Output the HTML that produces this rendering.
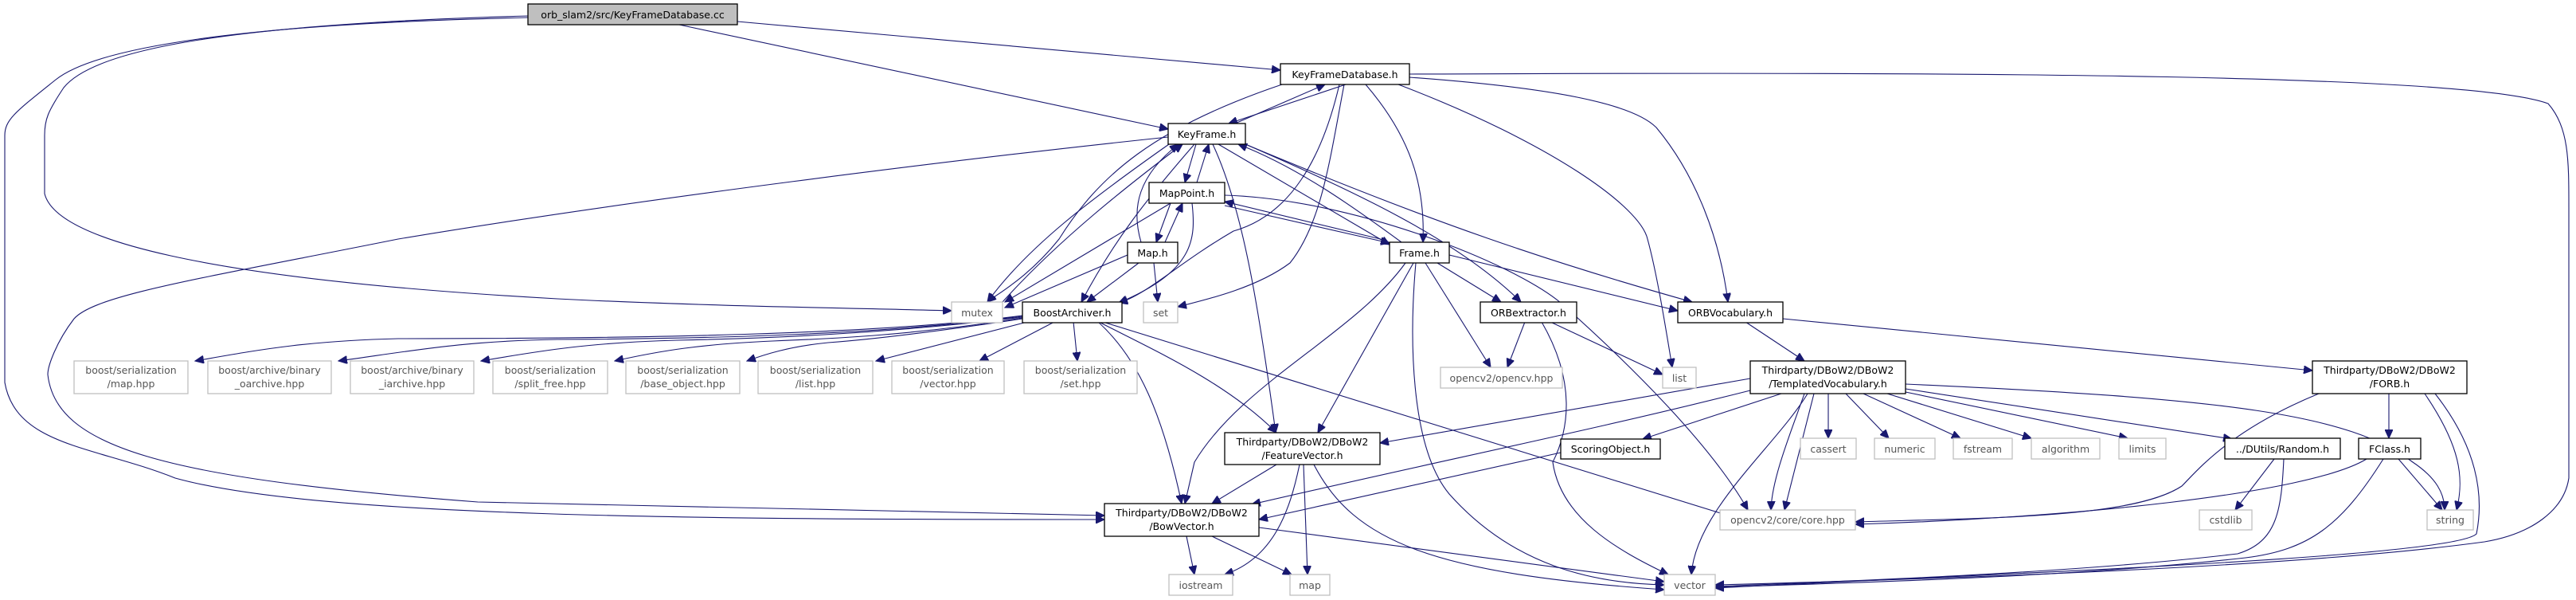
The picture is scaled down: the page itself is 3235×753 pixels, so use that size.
<!DOCTYPE html>
<html><head><meta charset="utf-8"><style>
html,body{margin:0;padding:0;background:#fff}
svg{display:block}
text{font-family:"DejaVu Sans","Liberation Sans",sans-serif;font-size:12.5px;text-anchor:middle}
.b rect{fill:#fff;stroke:#000;stroke-width:1.3}
.g rect{fill:#fff;stroke:#bfbfbf;stroke-width:1.3}
.g text{fill:#555}
path{fill:none;stroke:#191970;stroke-width:1.1}
</style></head><body>
<svg width="3235" height="753" viewBox="0 0 3235 753" xmlns="http://www.w3.org/2000/svg">
<defs><marker id="a" markerUnits="userSpaceOnUse" markerWidth="12" markerHeight="10" refX="11" refY="5" orient="auto"><path d="M0,0 L11,5 L0,10 z" style="fill:#191970;stroke:#191970"/></marker></defs>
<g marker-end="url(#a)">
<path d="M926,27 L1608,88"/>
<path d="M853,31 L1467,162"/>
<path d="M663,20 C300,30 120,60 80,110 C60,140 56,150 56,170 L56,243 C70,300 250,350 700,375 C900,385 1100,387 1195,390"/>
<path d="M663,22 C300,30 120,60 70,100 C20,140 6,150 6,170 L6,480 C20,560 120,560 220,600 C400,650 900,652 1387,652"/>
<path d="M1690,106 L1543,155"/>
<path d="M1551,155 L1664,106"/>
<path d="M1610,106 C1450,160 1380,220 1330,300 C1290,350 1250,370 1240,379"/>
<path d="M1682,106 C1660,200 1620,270 1549,290 C1480,330 1440,370 1405,380"/>
<path d="M1688,106 C1670,200 1660,280 1620,330 C1580,360 1520,375 1479,385"/>
<path d="M1715,106 C1770,170 1790,230 1787,304"/>
<path d="M1756,106 C1950,180 2060,260 2069,300 C2080,340 2090,400 2100,461"/>
<path d="M1770,97 C1950,110 2050,130 2080,160 C2130,220 2160,300 2170,379"/>
<path d="M1770,93 C2500,90 3100,93 3200,130 C3226,160 3226,200 3226,260 L3226,600 C3220,640 3180,670 3120,680 C2900,710 2500,725 2154,734"/>
<path d="M1502,181 L1488,229"/>
<path d="M1503,229 L1518,181"/>
<path d="M1468,181 C1370,250 1290,310 1240,379"/>
<path d="M1500,181 C1440,250 1400,300 1358,379"/>
<path d="M1523,181 C1560,260 1580,380 1602,543"/>
<path d="M1530,181 L1745,307"/>
<path d="M1760,304 C1700,260 1630,210 1555,181"/>
<path d="M1564,181 C1700,240 1830,300 1910,379"/>
<path d="M1564,181 C1800,280 1950,330 2125,379"/>
<path d="M1467,172 C1200,200 800,250 500,300 C250,350 120,370 93,400 C70,430 60,460 60,470 C70,560 200,600 600,630 C1000,640 1250,645 1387,647"/>
<path d="M1433,304 C1420,260 1430,220 1480,181"/>
<path d="M1259,379 C1330,300 1420,230 1485,181"/>
<path d="M1470,255 L1452,304"/>
<path d="M1463,304 L1485,255"/>
<path d="M1470,255 L1262,379"/>
<path d="M1497,255 C1502,300 1500,340 1405,380"/>
<path d="M1538,258 L1745,305"/>
<path d="M1742,302 L1538,253"/>
<path d="M1538,245 C1700,250 1900,330 1960,380 C2050,460 2150,560 2195,640"/>
<path d="M1416,320 L1262,386"/>
<path d="M1430,330 L1365,379"/>
<path d="M1449,330 L1454,379"/>
<path d="M1765,330 C1700,420 1560,480 1500,580 L1488,632"/>
<path d="M1775,330 L1655,543"/>
<path d="M1778,330 C1770,420 1770,560 1820,620 C1900,710 2000,732 2090,734"/>
<path d="M1790,330 L1872,461"/>
<path d="M1805,330 L1885,379"/>
<path d="M1820,320 L2107,390"/>
<path d="M1915,404 L1893,461"/>
<path d="M1947,404 L2088,470"/>
<path d="M1936,404 C1980,480 1970,540 1950,580 C1960,650 2030,690 2095,721"/>
<path d="M2192,404 L2266,453"/>
<path d="M2239,400 L2904,465"/>
<path d="M1284,396 C1100,420 800,425 500,425 C380,428 320,440 245,453"/>
<path d="M1284,397 C1100,420 900,425 700,426 C580,428 520,440 425,453"/>
<path d="M1284,398 C1100,420 950,425 850,427 C740,430 680,440 604,453"/>
<path d="M1284,399 C1150,420 1050,425 970,428 C880,432 830,440 772,453"/>
<path d="M1284,400 C1150,420 1080,427 1040,430 C990,435 960,445 938,453"/>
<path d="M1290,404 L1100,453"/>
<path d="M1324,404 L1230,453"/>
<path d="M1348,404 L1353,453"/>
<path d="M1380,404 C1450,440 1540,480 1603,543"/>
<path d="M1379,404 C1430,450 1460,520 1484,632"/>
<path d="M1385,404 L2180,650"/>
<path d="M2198,475 L1733,556"/>
<path d="M2198,490 C2000,540 1800,580 1572,633"/>
<path d="M2237,494 L2063,551"/>
<path d="M2278,494 L2241,640"/>
<path d="M2266,494 C2250,540 2225,600 2224,640"/>
<path d="M2270,494 C2230,560 2130,640 2124,721"/>
<path d="M2296,494 L2296,550"/>
<path d="M2318,494 L2372,550"/>
<path d="M2340,494 L2462,550"/>
<path d="M2370,494 L2551,550"/>
<path d="M2393,492 L2672,550"/>
<path d="M2393,488 L2803,551"/>
<path d="M2393,482 C2800,500 2950,520 3030,580 C3060,600 3070,620 3070,640"/>
<path d="M1960,568 L1581,652"/>
<path d="M1603,583 L1522,632"/>
<path d="M1632,583 C1620,640 1600,700 1538,721"/>
<path d="M1637,583 L1642,721"/>
<path d="M1650,583 C1700,680 1800,720 2090,740"/>
<path d="M1490,673 L1500,721"/>
<path d="M1522,673 L1622,721"/>
<path d="M1581,662 L2090,730"/>
<path d="M2912,494 C2800,540 2760,590 2740,610 C2680,650 2500,650 2330,655"/>
<path d="M3000,494 L3000,550"/>
<path d="M3045,494 C3090,560 3095,600 3085,640"/>
<path d="M3058,494 C3110,560 3120,620 3110,670 C3080,700 2500,720 2154,738"/>
<path d="M2856,576 L2807,640"/>
<path d="M2868,576 C2865,640 2860,680 2810,695 C2600,720 2300,730 2154,736"/>
<path d="M2972,576 C2900,620 2600,650 2330,658"/>
<path d="M3012,576 L3067,640"/>
<path d="M2993,576 C2940,660 2900,690 2820,700 C2600,725 2300,732 2154,737"/>
</g>
<g class="b"><rect x="663" y="5" width="263" height="26" style="fill:#bfbfbf"/><text x="794.5" y="23">orb_slam2/src/KeyFrameDatabase.cc</text></g>
<g class="b"><rect x="1608" y="80" width="162" height="26"/><text x="1689" y="98">KeyFrameDatabase.h</text></g>
<g class="b"><rect x="1467" y="155" width="97" height="26"/><text x="1515.5" y="173">KeyFrame.h</text></g>
<g class="b"><rect x="1443" y="229" width="95" height="26"/><text x="1490.5" y="247">MapPoint.h</text></g>
<g class="b"><rect x="1416" y="304" width="63" height="26"/><text x="1447.5" y="322">Map.h</text></g>
<g class="b"><rect x="1745" y="304" width="75" height="26"/><text x="1782.5" y="322">Frame.h</text></g>
<g class="g"><rect x="1195" y="379" width="64" height="26"/><text x="1227" y="397">mutex</text></g>
<g class="b"><rect x="1284" y="379" width="125" height="26"/><text x="1346.5" y="397">BoostArchiver.h</text></g>
<g class="g"><rect x="1436" y="379" width="43" height="26"/><text x="1457.5" y="397">set</text></g>
<g class="b"><rect x="1859" y="379" width="121" height="26"/><text x="1919.5" y="397">ORBextractor.h</text></g>
<g class="b"><rect x="2107" y="379" width="132" height="26"/><text x="2173" y="397">ORBVocabulary.h</text></g>
<g class="g"><rect x="93" y="453" width="143" height="41"/><text x="164.5" y="469">boost/serialization</text><text x="164.5" y="486">/map.hpp</text></g>
<g class="g"><rect x="261" y="453" width="155" height="41"/><text x="338.5" y="469">boost/archive/binary</text><text x="338.5" y="486">_oarchive.hpp</text></g>
<g class="g"><rect x="440" y="453" width="155" height="41"/><text x="517.5" y="469">boost/archive/binary</text><text x="517.5" y="486">_iarchive.hpp</text></g>
<g class="g"><rect x="619" y="453" width="144" height="41"/><text x="691" y="469">boost/serialization</text><text x="691" y="486">/split_free.hpp</text></g>
<g class="g"><rect x="786" y="453" width="143" height="41"/><text x="857.5" y="469">boost/serialization</text><text x="857.5" y="486">/base_object.hpp</text></g>
<g class="g"><rect x="952" y="453" width="144" height="41"/><text x="1024" y="469">boost/serialization</text><text x="1024" y="486">/list.hpp</text></g>
<g class="g"><rect x="1120" y="453" width="141" height="41"/><text x="1190.5" y="469">boost/serialization</text><text x="1190.5" y="486">/vector.hpp</text></g>
<g class="g"><rect x="1286" y="453" width="142" height="41"/><text x="1357" y="469">boost/serialization</text><text x="1357" y="486">/set.hpp</text></g>
<g class="g"><rect x="1809" y="461" width="153" height="26"/><text x="1885.5" y="479">opencv2/opencv.hpp</text></g>
<g class="g"><rect x="2088" y="461" width="42" height="26"/><text x="2109" y="479">list</text></g>
<g class="b"><rect x="2198" y="453" width="195" height="41"/><text x="2295.5" y="469">Thirdparty/DBoW2/DBoW2</text><text x="2295.5" y="486">/TemplatedVocabulary.h</text></g>
<g class="b"><rect x="2904" y="453" width="194" height="41"/><text x="3001" y="469">Thirdparty/DBoW2/DBoW2</text><text x="3001" y="486">/FORB.h</text></g>
<g class="b"><rect x="1538" y="543" width="195" height="40"/><text x="1635.5" y="559">Thirdparty/DBoW2/DBoW2</text><text x="1635.5" y="576">/FeatureVector.h</text></g>
<g class="b"><rect x="1960" y="551" width="125" height="25"/><text x="2022.5" y="568">ScoringObject.h</text></g>
<g class="g"><rect x="2261" y="550" width="70" height="26"/><text x="2296" y="568">cassert</text></g>
<g class="g"><rect x="2354" y="550" width="76" height="26"/><text x="2392" y="568">numeric</text></g>
<g class="g"><rect x="2453" y="550" width="74" height="26"/><text x="2490" y="568">fstream</text></g>
<g class="g"><rect x="2551" y="550" width="86" height="26"/><text x="2594" y="568">algorithm</text></g>
<g class="g"><rect x="2661" y="550" width="59" height="26"/><text x="2690.5" y="568">limits</text></g>
<g class="b"><rect x="2794" y="550" width="145" height="26"/><text x="2866.5" y="568">../DUtils/Random.h</text></g>
<g class="b"><rect x="2962" y="550" width="78" height="26"/><text x="3001" y="568">FClass.h</text></g>
<g class="b"><rect x="1387" y="632" width="194" height="41"/><text x="1484" y="648">Thirdparty/DBoW2/DBoW2</text><text x="1484" y="665">/BowVector.h</text></g>
<g class="g"><rect x="2160" y="640" width="170" height="25"/><text x="2245" y="657">opencv2/core/core.hpp</text></g>
<g class="g"><rect x="2762" y="640" width="66" height="25"/><text x="2795" y="657">cstdlib</text></g>
<g class="g"><rect x="3048" y="640" width="58" height="25"/><text x="3077" y="657">string</text></g>
<g class="g"><rect x="1468" y="721" width="80" height="26"/><text x="1508" y="739">iostream</text></g>
<g class="g"><rect x="1620" y="721" width="50" height="26"/><text x="1645" y="739">map</text></g>
<g class="g"><rect x="2090" y="721" width="64" height="26"/><text x="2122" y="739">vector</text></g>
</svg>
</body></html>
